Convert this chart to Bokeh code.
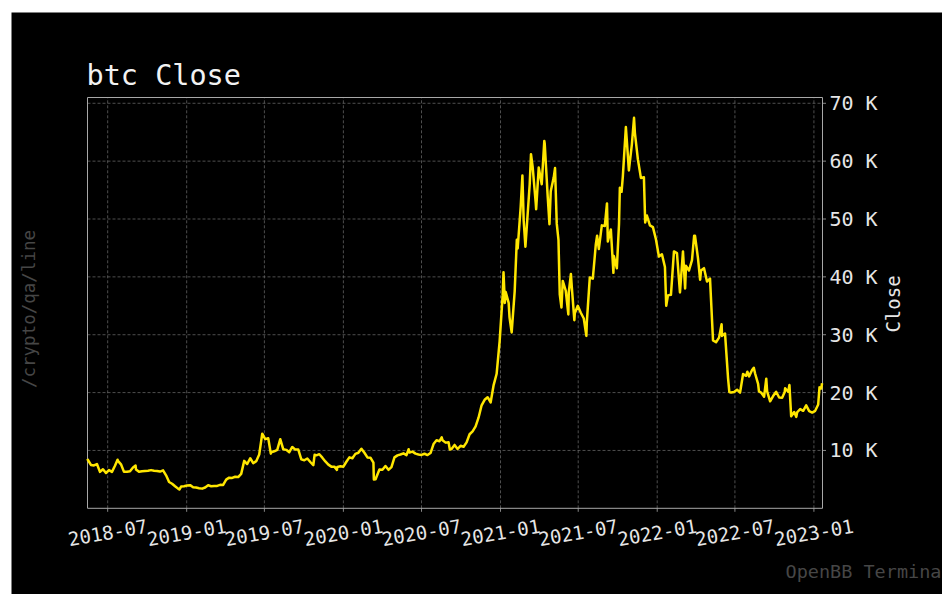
import pandas as pd
from math import pi
from bokeh.plotting import figure
from bokeh.models import Range1d, LabelSet, Label, ColumnDataSource
from bokeh.embed import file_html
from bokeh.resources import INLINE
from bokeh.core.properties import value

# ---- data (weekly closes, USD) ----
w2018_start = "2018-05-16"
w2018 = [8350, 7500, 7400, 7650, 6300, 6750, 6100, 6600, 6300, 7350, 8200, 7600, 6300, 6300,
         6400, 7050, 6700, 6300, 6400, 6450, 6500, 6600, 6500, 6450, 6350, 6550, 5700, 4550,
         4250, 3800, 3400, 3750, 3800]
w2019_start = "2019-01-02"
w2019 = [3950, 4000, 3650, 3580, 3480, 3400, 3600, 3980, 3820, 3870, 3870, 4050, 4030, 4950,
         5300, 5250, 5450, 5400, 5950, 8200, 7650, 8650, 7800, 8150, 9300, 12900, 11950, 12100,
         9700, 9850, 10100, 11950, 10200, 10100, 9700, 10600, 10150, 10150, 8450, 8300, 8600,
         8000, 7450, 9150, 9350, 8750, 8100, 7550, 7200, 7200, 7150, 7250]
w2020_start = "2020-01-01"
w2020 = [7200, 8050, 8800, 8650, 9400, 9600, 10300, 9600, 8800, 8750, 7900, 5400, 6700, 6650,
         7300, 6650, 7130, 8800, 9150, 9300, 9500, 9200, 9650, 9800, 9450, 9300, 9230, 9430,
         9200, 9550, 11100, 11750, 11600, 11750, 11350, 11400, 10250, 10950, 10250, 10800,
         10650, 11400, 12800, 13300, 14150, 15700, 17800, 18750, 19200, 18300, 21300, 23250,
         28900]
w2021_start = "2021-01-06"
w2021 = [36800, 37400, 35500, 30400, 37500, 44900, 52100, 49700, 48400, 56000, 58900, 52800,
         58900, 56000, 63000, 53800, 54800, 57200, 49200, 37000, 39300, 37600, 37300, 38300,
         33700, 35000, 33800, 32800, 32100, 39900, 39700, 45600, 44800, 48900, 48800, 46100,
         48200, 43600, 41500, 55400, 57400, 65900, 58400, 62900, 64900, 60300, 57100, 57200,
         50600, 48900, 48600, 46500]
w2022_start = "2022-01-05"
w2022 = [43500, 43900, 41700, 36800, 36900, 44400, 44100, 37300, 44400, 41900, 41100, 42900,
         47100, 43200, 41100, 41500, 39200, 39700, 29000, 28700, 29500, 29800, 30200, 22500,
         20000, 20100, 20500, 20000, 23200, 22900, 22800, 23900, 23300, 21500, 20000, 19300,
         20200, 18500, 19400, 20150, 19150, 19100, 20750, 20150, 15900, 16650, 16600, 17150,
         16850, 17800, 16800, 16550]
w2023_start = "2023-01-04"
w2023 = [16850, 17950, 20700]

# extra daily highs / lows visible in the picture
extra_dates = ["2018-05-15", "2018-07-24", "2018-09-04", "2018-11-19", "2018-12-15",
               "2019-07-16", "2019-10-25", "2019-10-26", "2019-12-17",
               "2020-03-12", "2020-03-16", "2020-06-01", "2020-08-17", "2020-09-05",
               "2021-01-08", "2021-01-11", "2021-01-22", "2021-02-08", "2021-02-21",
               "2021-02-28", "2021-03-13", "2021-03-25", "2021-04-13", "2021-04-25",
               "2021-05-08", "2021-05-16", "2021-05-23", "2021-06-08", "2021-06-14",
               "2021-06-22", "2021-07-20", "2021-08-14", "2021-09-06", "2021-09-21",
               "2021-10-04", "2021-10-10", "2021-11-08", "2021-12-04",
               "2022-01-22", "2022-03-07", "2022-03-28", "2022-04-11", "2022-05-31",
               "2022-06-18", "2022-07-30", "2022-08-14", "2022-08-26", "2022-09-12",
               "2022-10-25", "2022-11-05", "2022-11-21", "2023-01-14", "2023-01-20"]
extra_vals = [8550, 8400, 7380, 4900, 3250,
              9450, 8650, 9250, 6640,
              4970, 5020, 10200, 12250, 10150,
              40800, 35500, 33000, 46400, 57500,
              45200, 61200, 51700, 63500, 49100,
              58800, 46400, 34700, 33500, 40500,
              32500, 29800, 47100, 52700, 40700,
              49100, 54700, 67500, 49400,
              35000, 38000, 47100, 39500, 31800,
              20100, 23600, 24300, 20200, 22400,
              20100, 21300, 15800, 20900, 21600]

tick_dates = ["2018-07-01", "2019-01-01", "2019-07-01", "2020-01-01", "2020-07-01",
              "2021-01-01", "2021-07-01", "2022-01-01", "2022-07-01", "2023-01-01"]
tick_labels = ["2018-07", "2019-01", "2019-07", "2020-01", "2020-07",
               "2021-01", "2021-07", "2022-01", "2022-07", "2023-01"]
y_ticks = [10000, 20000, 30000, 40000, 50000, 60000, 70000]
y_labels = ["10 K", "20 K", "30 K", "40 K", "50 K", "60 K", "70 K"]

x_first, x_last = "2018-05-15", "2023-01-21"   # x extent of the plot box
y_low, y_high = 0, 71000                        # y extent of the plot box

# ---- assemble ----
dates, vals = [], []
for start, arr in [(w2018_start, w2018), (w2019_start, w2019), (w2020_start, w2020),
                   (w2021_start, w2021), (w2022_start, w2022), (w2023_start, w2023)]:
    dates.extend(pd.date_range(start, periods=len(arr), freq="7D"))
    vals.extend(arr)
dates.extend(pd.to_datetime(extra_dates))
vals.extend(extra_vals)
df = pd.DataFrame({"date": dates, "close": vals}).sort_values("date").reset_index(drop=True)
src = ColumnDataSource(df)


def ms(t):
    return pd.Timestamp(t).timestamp() * 1000.0


# ---- layout (canvas px) ----
W, H = 931, 582
BOX_L, BOX_R, BOX_T, BOX_B = 76, 811, 85, 495.8
xs, xe = ms(x_first), ms(x_last)
kx = (xe - xs) / (BOX_R - BOX_L)
ky = (y_high - y_low) / (BOX_B - BOX_T)

MONO = "DejaVu Sans Mono"
LIGHT = "#e6e6e6"
DIM = "#464646"
GRID = "#7a7a7a"
FRAME = "#a8a8a8"

p = figure(width=W, height=H, x_axis_location=None, y_axis_location=None,
           x_range=Range1d(xs - BOX_L * kx, xe + (W - BOX_R) * kx),
           y_range=Range1d(y_low - (H - BOX_B) * ky, y_high + BOX_T * ky),
           output_backend="svg", toolbar_location=None, title=None,
           min_border=0, background_fill_color="black", border_fill_color="black",
           outline_line_color=None, margin=(12, 0, 0, 11))
p.xgrid.visible = False
p.ygrid.visible = False

tick_ms = [ms(d) for d in tick_dates]
nx, ny = len(tick_ms), len(y_ticks)

# grid lines (dashed) and tick marks
p.segment(x0=tick_ms, x1=tick_ms, y0=[y_low] * nx, y1=[y_high] * nx,
          line_color=GRID, line_alpha=0.8, line_width=0.8, line_dash="3 2")
p.segment(x0=[xs] * ny, x1=[xe] * ny, y0=y_ticks, y1=y_ticks,
          line_color=GRID, line_alpha=0.8, line_width=0.8, line_dash="3 2")
p.segment(x0=tick_ms, x1=tick_ms, y0=[y_low] * nx, y1=[y_low - 3.5 * ky] * nx,
          line_color=FRAME, line_width=0.8)
p.segment(x0=[xe] * ny, x1=[xe + 3.5 * kx] * ny, y0=y_ticks, y1=y_ticks,
          line_color=FRAME, line_width=0.8)

# plot box
p.quad(left=[xs], right=[xe], bottom=[y_low], top=[y_high], fill_color=None,
       line_color=FRAME, line_width=1)

# price line
p.line(x="date", y="close", source=src, line_color="#FFE600", line_width=2.5,
       line_join="round")

# x tick labels (rotated, centred on ticks)
xt_src = ColumnDataSource(dict(x=tick_ms, text=tick_labels))
p.add_layout(LabelSet(x="x", y=H - 520, text="text", source=xt_src, x_units="data",
                      y_units="screen", angle=10 * pi / 180, text_align="center",
                      text_baseline="middle", text_font=value(MONO),
                      text_font_size=value("19px"), text_color=LIGHT))

# y tick labels on the right
yt_src = ColumnDataSource(dict(y=y_ticks, text=y_labels))
p.add_layout(LabelSet(x=xe, y="y", text="text", source=yt_src, x_offset=7,
                      text_align="left", text_baseline="middle", text_font=value(MONO),
                      text_font_size=value("20px"), text_color=LIGHT))

# titles and side texts
p.add_layout(Label(x=BOX_L - 1, y=H - 62.5, x_units="screen", y_units="screen",
                   text="btc Close", text_font=MONO, text_font_size="28.5px",
                   text_color="#f2f2f2", text_align="left", text_baseline="middle"))
p.add_layout(Label(x=881, y=H - 291.5, x_units="screen", y_units="screen", text="Close",
                   angle=pi / 2, text_font=MONO, text_font_size="19px", text_color=LIGHT,
                   text_align="center", text_baseline="middle"))
p.add_layout(Label(x=17, y=H - 296.5, x_units="screen", y_units="screen",
                   text="/crypto/qa/line", angle=pi / 2, text_font=MONO,
                   text_font_size="17.5px", text_color=DIM, text_align="center",
                   text_baseline="middle"))
p.add_layout(Label(x=774, y=H - 558.5, x_units="screen", y_units="screen",
                   text="OpenBB Terminal", text_font=MONO, text_font_size="18.5px",
                   text_color=DIM, text_align="left", text_baseline="middle"))

open("out.html", "w").write(file_html(p, INLINE))
